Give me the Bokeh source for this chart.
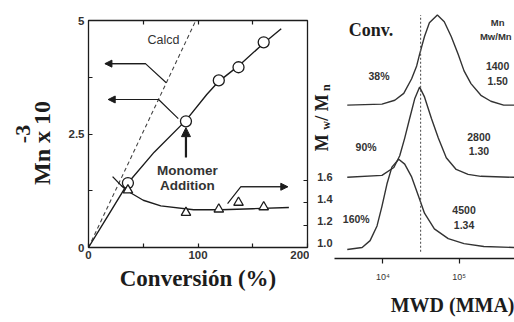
import math
from bokeh.plotting import figure
from bokeh.models import Range1d, LinearAxis, FixedTicker, Label, Arrow, NormalHead, Title
from bokeh.layouts import row
from bokeh.embed import file_html
from bokeh.resources import INLINE

# ---------------- Left panel data ----------------
conv_pts = [36, 89, 119, 137, 160]                 # conversion (%)
mn_pts = [1.42, 2.78, 3.68, 3.97, 4.52]            # Mn x 10^-3
pdi_pts = [1.51, 1.31, 1.34, 1.40, 1.36]           # Mw/Mn
mn_fit_x = [0, 18, 36, 60, 89, 108, 119, 137, 160, 176]
mn_fit_y = [0, 0.71, 1.42, 2.1, 2.8, 3.37, 3.66, 4.0, 4.5, 4.82]
calcd_x = [0, 98]
calcd_y = [0, 5]
pdi_fit_x = [22, 30, 36, 50, 66, 96, 121, 150, 183]
pdi_fit_y = [1.63, 1.55, 1.50, 1.42, 1.37, 1.335, 1.335, 1.345, 1.355]

x_ticks = [0, 50, 100, 150, 200]
x_tick_labels = {0: "0", 50: "", 100: "100", 150: "", 200: "200"}
y_ticks = [0, 1.25, 2.5, 3.75, 5]
y_tick_labels = {0: "0", 1.25: "", 2.5: "2.5", 3.75: "", 5: "5"}
r_ticks = [1.0, 1.2, 1.4, 1.6]
r_tick_labels = {1.0: "1.0", 1.2: "1.2", 1.4: "1.4", 1.6: "1.6"}
r_blank = {1.0: "", 1.2: "", 1.4: "", 1.6: ""}

# pointer arrows (conversion, value)
arrow1_x = [71, 52, 15]
arrow1_y = [3.63, 4.05, 4.05]
arrow2_x = [82, 64, 18]
arrow2_y = [2.84, 3.26, 3.26]
arrow3_x = [127, 139, 182]
arrow3_y = [1.39, 1.54, 1.54]
mono_x = [89, 89]
mono_y = [1.98, 2.64]

# ---------------- Right panel data (MWD) ----------------
c1_M = [3400, 9700, 14300, 18750, 23800, 27700, 30300, 35100, 40700, 51800,
        63800, 78700, 97100, 116000, 143000, 193000, 261000, 384000, 533000]
c1_h = [0, 0.011, 0.054, 0.13, 0.293, 0.435, 0.565, 0.761, 0.913, 1.0,
        0.924, 0.761, 0.565, 0.38, 0.239, 0.109, 0.043, 0, 0]
c2_M = [3400, 9700, 13900, 16600, 19300, 22400, 26100, 30300, 35100, 43300,
        53300, 67800, 91400, 131000, 193000, 533000]
c2_h = [0, 0.022, 0.109, 0.239, 0.435, 0.652, 0.87, 1.0, 0.891, 0.652,
        0.435, 0.217, 0.087, 0.033, 0.011, 0]
c3_M = [3400, 5330, 6780, 8360, 9700, 11300, 13100, 16100, 19300, 23800,
        29400, 35100, 47300, 71900, 116000, 211000, 533000]
c3_h = [0, 0.022, 0.098, 0.261, 0.478, 0.728, 0.913, 1.0, 0.946, 0.804,
        0.587, 0.402, 0.228, 0.12, 0.065, 0.033, 0.022]
offsets = [1.7, 0.9, 0.1]
conv_labels = ["38%", "90%", "160%"]
mn_labels = ["1400", "2800", "4500"]
pdi_labels = ["1.50", "1.30", "1.34"]
ref_M = 31200
mwd_ticks = [10000, 100000]

INK = "#1c1c1c"
SCAN = "#333333"
SERIF = "Liberation Serif"
SANS = "Liberation Sans"
NB = "\u00a0"


def no_align(fig):
    try:
        fig.frame_align = False
    except Exception:
        pass


# ================= Left figure =================
p = figure(width=309, height=322, x_range=Range1d(0, 200), y_range=Range1d(0, 5),
           output_backend="svg", toolbar_location=None,
           min_border_left=88, min_border_right=2, min_border_top=20, min_border_bottom=75)
no_align(p)
p.extra_y_ranges = {"mw": Range1d(1.0, 3.018)}
p.xgrid.visible = False
p.ygrid.visible = False
p.outline_line_color = INK
p.outline_line_width = 1.3
p.background_fill_color = "white"
p.border_fill_color = "white"

for ax in p.xaxis + p.yaxis:
    ax.major_tick_in = 4
    ax.major_tick_out = 0
    ax.minor_tick_line_color = None
    ax.axis_line_color = None
    ax.major_tick_line_color = INK
    ax.major_tick_line_width = 1.2
    ax.major_label_text_font = SANS
    ax.major_label_text_font_style = "bold"
    ax.major_label_text_font_size = "11.5px"
    ax.major_label_text_color = SCAN
    ax.axis_label_text_font = SERIF
    ax.axis_label_text_font_style = "bold"
    ax.axis_label_text_color = INK

p.xaxis.ticker = FixedTicker(ticks=x_ticks)
p.xaxis.major_label_overrides = x_tick_labels
p.xaxis.major_label_standoff = 3
p.xaxis.axis_label = "Conversión (%)"
p.xaxis.axis_label_text_font_size = "23px"
p.xaxis.axis_label_standoff = 4

p.yaxis.ticker = FixedTicker(ticks=y_ticks)
p.yaxis.major_label_overrides = y_tick_labels
p.yaxis.major_label_standoff = 4
p.yaxis.axis_label = "Mn x 10" + NB * 3
p.yaxis.axis_label_text_font_size = "24px"
p.yaxis.axis_label_standoff = 11

p.add_layout(Title(text="-3", text_font=SERIF, text_font_style="bold", text_font_size="22px",
                   text_color=INK, align="center", offset=28, standoff=-9), "left")

top = LinearAxis(ticker=FixedTicker(ticks=[50, 100, 150]), major_tick_in=4, major_tick_out=0,
                 axis_line_color=None, minor_tick_line_color=None, major_label_text_color=None,
                 major_label_text_font_size="0px", major_label_standoff=0,
                 major_tick_line_color=INK, major_tick_line_width=1.2)
p.add_layout(top, "above")
# right-hand Mw/Mn ticks (their labels are drawn by the MWD figure's left axis)
right = LinearAxis(y_range_name="mw", ticker=FixedTicker(ticks=r_ticks), major_tick_in=4,
                   major_tick_out=0, axis_line_color=None, minor_tick_line_color=None,
                   major_tick_line_color=INK, major_tick_line_width=1.2,
                   major_label_overrides=r_blank, major_label_text_color=None,
                   major_label_text_font_size="0px", major_label_standoff=0,
                   axis_label_standoff=0)
p.add_layout(right, "right")

p.line(calcd_x, calcd_y, line_color="#444444", line_width=1.1, line_dash="4 3")
p.line(mn_fit_x, mn_fit_y, line_color=INK, line_width=1.4)
p.line(pdi_fit_x, pdi_fit_y, line_color=INK, line_width=1.4, y_range_name="mw")
p.scatter(conv_pts, mn_pts, marker="circle", size=11, fill_color="white",
          line_color=INK, line_width=1.3)
p.scatter(conv_pts, pdi_pts, marker="triangle", size=9.5, fill_color="white",
          line_color=INK, line_width=1.3, y_range_name="mw")

# pointer arrows
p.line(arrow1_x, arrow1_y, line_color=INK, line_width=1.2)
p.add_layout(Arrow(end=NormalHead(size=7, fill_color=INK, line_color=INK),
                   x_start=arrow1_x[1], y_start=arrow1_y[1], x_end=arrow1_x[2], y_end=arrow1_y[2],
                   line_color=INK, line_width=1.2))
p.line(arrow2_x, arrow2_y, line_color=INK, line_width=1.2)
p.add_layout(Arrow(end=NormalHead(size=7, fill_color=INK, line_color=INK),
                   x_start=arrow2_x[1], y_start=arrow2_y[1], x_end=arrow2_x[2], y_end=arrow2_y[2],
                   line_color=INK, line_width=1.2))
p.line(arrow3_x, arrow3_y, line_color=INK, line_width=1.2, y_range_name="mw")
p.add_layout(Arrow(end=NormalHead(size=7, fill_color=INK, line_color=INK),
                   x_start=arrow3_x[1], y_start=arrow3_y[1], x_end=arrow3_x[2], y_end=arrow3_y[2],
                   line_color=INK, line_width=1.2, y_range_name="mw"))
p.add_layout(Arrow(end=NormalHead(size=9, fill_color=INK, line_color=INK),
                   x_start=mono_x[0], y_start=mono_y[0], x_end=mono_x[1], y_end=mono_y[1],
                   line_color=INK, line_width=2.2))


def lab(fig, x, y, text, size, font=SANS, style="bold", color=SCAN, align="center",
        baseline="middle", angle=0.0, **kw):
    fig.add_layout(Label(x=x, y=y, text=text, text_font=font, text_font_style=style,
                         text_font_size=size, text_color=color, text_align=align,
                         text_baseline=baseline, angle=angle, **kw))


lab(p, 68.5, 4.56, "Calcd", "12.5px", style="normal")
lab(p, 90.4, 1.70, "Monomer", "13.5px")
lab(p, 90.4, 1.366, "Addition", "13.5px")

# ================= Right figure =================
q = figure(width=205, height=322, x_axis_type="log", x_range=Range1d(2312, 533000),
           y_range=Range1d(0, 2.86), output_backend="svg", toolbar_location=None,
           y_axis_location=None,
           min_border_left=23, min_border_right=0, min_border_top=0, min_border_bottom=59)
no_align(q)
# same pixel mapping as the left panel's Mw/Mn scale
q.extra_y_ranges = {"mw": Range1d(0.858, 3.196)}
q.xgrid.visible = False
q.ygrid.visible = False
q.outline_line_color = None
q.background_fill_color = "white"
q.border_fill_color = "white"

mw_axis = LinearAxis(y_range_name="mw", ticker=FixedTicker(ticks=r_ticks),
                     major_tick_in=0, major_tick_out=0, major_tick_line_color=None,
                     axis_line_color=None, minor_tick_line_color=None,
                     major_label_overrides=r_tick_labels,
                     major_label_text_font=SANS, major_label_text_font_style="bold",
                     major_label_text_font_size="11px", major_label_text_color=SCAN,
                     major_label_standoff=2,
                     axis_label=NB * 5 + "M" + NB * 3 + "/" + NB + "M" + NB * 2,
                     axis_label_text_font=SERIF, axis_label_text_font_style="bold",
                     axis_label_text_font_size="18px", axis_label_text_color=INK,
                     axis_label_standoff=-18)
q.add_layout(mw_axis, "left")
sub_axis = LinearAxis(y_range_name="mw", ticker=FixedTicker(ticks=[]),
                      major_tick_in=0, major_tick_out=0, major_tick_line_color=None,
                      axis_line_color=None, minor_tick_line_color=None,
                      major_label_text_color=None, major_label_standoff=0,
                      axis_label=NB * 15 + "w" + NB * 10 + "n",
                      axis_label_text_font=SERIF, axis_label_text_font_style="bold",
                      axis_label_text_font_size="12px", axis_label_text_color=INK,
                      axis_label_standoff=-23)
q.add_layout(sub_axis, "left")

xa = q.xaxis[0]
xa.ticker = FixedTicker(ticks=mwd_ticks)
xa.major_label_overrides = {10000: "10\u2074", 100000: "10\u2075"}
xa.major_tick_in = 0
xa.major_tick_out = 5
xa.minor_tick_line_color = None
xa.axis_line_color = INK
xa.axis_line_width = 1.5
xa.major_tick_line_color = INK
xa.major_tick_line_width = 1.2
xa.major_label_standoff = 8
xa.major_label_text_font = SANS
xa.major_label_text_font_size = "9px"
xa.major_label_text_color = SCAN
q.add_layout(Title(text="MWD (MMA)", text_font=SERIF, text_font_style="bold",
                   text_font_size="20px", text_color=INK, align="right", standoff=14), "below")

for M, h, off in zip([c1_M, c2_M, c3_M], [c1_h, c2_h, c3_h], offsets):
    q.line(M, [v + off for v in h], line_color=SCAN, line_width=1.4)
q.line([ref_M, ref_M], [0.076, 2.70], line_color="#555555", line_width=1.1, line_dash="2 2")

lab(q, 6980, 2.533, "Conv.", "18px", font=SERIF, color=INK)
conv_x = [8870, 6010, 4460]
conv_y = [2.02, 1.239, 0.435]
val_x = [320000, 181900, 116000]
mn_y = [2.13, 1.348, 0.543]
pdi_y = [1.967, 1.196, 0.37]
for i in range(3):
    lab(q, conv_x[i], conv_y[i], conv_labels[i], "10.5px")
    lab(q, val_x[i], mn_y[i], mn_labels[i], "10.5px")
    lab(q, val_x[i], pdi_y[i], pdi_labels[i], "10.5px")
lab(q, 320000, 2.62, "Mn", "9.5px")
lab(q, 302700, 2.457, "Mw/Mn", "9.5px")

layout = row(p, q)
open("out.html", "w").write(file_html(layout, INLINE))
